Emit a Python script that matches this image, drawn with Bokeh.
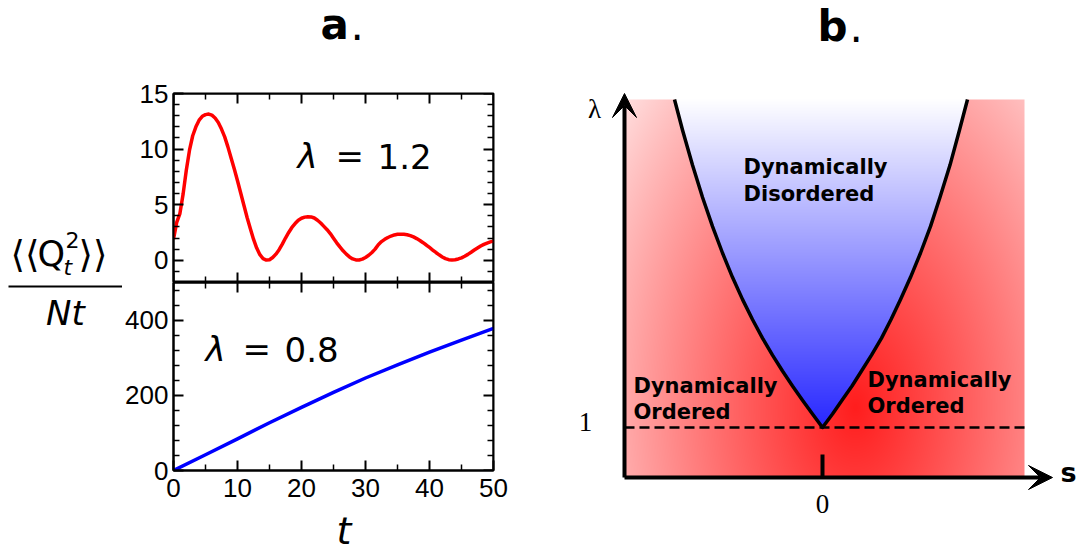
import numpy as np
from bokeh.plotting import figure
from bokeh.layouts import row, column
from bokeh.models import (Range1d, LinearAxis, FixedTicker, Label, Arrow, VeeHead,
                          CustomJSTickFormatter)
from bokeh.embed import file_html
from bokeh.resources import INLINE

# ---------------- data: panel a ----------------
t_red = [i * 0.5 for i in range(0, 101)]
q2_red = [1.9, 3.4, 4.2, 5.95, 8.1, 9.9, 11.2, 12.0, 12.6, 12.95,
          13.1, 13.15, 13.05, 12.8, 12.4, 11.8, 11.1, 10.2, 9.2, 8.2,
          7.15, 6.05, 4.95, 3.85, 2.85, 1.9, 1.1, 0.5, 0.15, 0.02,
          0.05, 0.25, 0.55, 0.95, 1.45, 2.0, 2.5, 2.95, 3.3, 3.6,
          3.78, 3.88, 3.92, 3.9, 3.8, 3.6, 3.35, 3.05, 2.75, 2.4,
          1.98, 1.57, 1.2, 0.85, 0.55, 0.3, 0.12, 0.03, 0.02, 0.1,
          0.25, 0.45, 0.7, 1.0, 1.4, 1.68, 1.88, 2.05, 2.18, 2.28,
          2.34, 2.35, 2.34, 2.3, 2.22, 2.1, 1.95, 1.78, 1.58, 1.37,
          1.15, 0.92, 0.7, 0.49, 0.3, 0.15, 0.05, 0.02, 0.05, 0.12,
          0.22, 0.36, 0.53, 0.72, 0.92, 1.1, 1.28, 1.43, 1.55, 1.65, 1.72]
t_blue = [0, 5, 10, 15, 20, 25, 30, 35, 40, 45, 50]
q2_blue = [0, 42, 84, 127, 168, 208, 246, 281, 315, 347, 378]

x_ticks = [0, 10, 20, 30, 40, 50]
x_minor = [5, 15, 25, 35, 45]
top_ticks = [0, 5, 10, 15]
top_minor = [-1, 1, 2, 3, 4, 6, 7, 8, 9, 11, 12, 13, 14]
bot_ticks = [0, 200, 400]
bot_minor = [40, 80, 120, 160, 240, 280, 320, 360, 440, 480]
lambda_top_value = "1.2"
lambda_bot_value = "0.8"

# ---------------- data: panel b ----------------
lam_boundary = [1.0, 1.135, 1.273, 1.415, 1.565, 1.724, 1.894, 2.08, 2.281,
                2.502, 2.745, 3.011, 3.303, 3.624, 3.975, 4.28]
s_left_boundary = [0.0, -0.10, -0.20, -0.30, -0.40, -0.50, -0.60, -0.70, -0.80,
                   -0.90, -1.00, -1.10, -1.20, -1.30, -1.40, -1.48]
s_right_boundary = [0.0, 0.10, 0.195, 0.295, 0.39, 0.49, 0.59, 0.685, 0.78,
                    0.88, 0.98, 1.08, 1.175, 1.275, 1.37, 1.45]
lambda_c = 1.0
S_MIN, S_MAX = -1.98, 2.02
L_MIN, L_MAX = 0.5, 4.28

BLACK = "black"
TOP_H = 56  # height of the title strip


def bl(py, size):
    """page-pixel anchor giving an alphabetic baseline at page row py"""
    return py - 0.42 * size


def lab(size, **kw):
    kw.setdefault("text_baseline", "alphabetic")
    kw.setdefault("text_color", BLACK)
    kw.setdefault("text_font", "DejaVu Sans")
    return Label(text_font_size=f"{size}px", **kw)


def bare_fig(w, h, xr, yr):
    p = figure(width=w, height=h, x_range=Range1d(*xr), y_range=Range1d(*yr),
               output_backend="svg", toolbar_location=None, x_axis_type=None, y_axis_type=None,
               min_border_left=0, min_border_right=0, min_border_top=0, min_border_bottom=0)
    p.outline_line_color = None
    p.grid.visible = False
    return p


def style_axis(ax, labels=True):
    ax.axis_line_color = BLACK
    ax.axis_line_width = 2
    ax.major_tick_line_color = BLACK
    ax.major_tick_line_width = 2
    ax.minor_tick_line_color = BLACK
    ax.minor_tick_line_width = 1.5
    ax.major_tick_in = 10
    ax.major_tick_out = 0
    ax.minor_tick_in = 6
    ax.minor_tick_out = 0
    ax.major_label_text_font = "Liberation Sans"
    ax.major_label_text_font_size = "26px"
    ax.major_label_text_color = BLACK
    if not labels:
        ax.formatter = CustomJSTickFormatter(code="return ''")


def make_panel(height, y0, y1, btop, bbot, yt, ym, xlabels):
    p = figure(width=398, height=height, x_range=Range1d(0, 50), y_range=Range1d(y0, y1),
               output_backend="svg", toolbar_location=None,
               x_axis_type=None, y_axis_type=None,
               min_border_left=51, min_border_right=27,
               min_border_top=btop, min_border_bottom=bbot)
    p.outline_line_color = BLACK
    p.outline_line_width = 2
    xt = FixedTicker(ticks=x_ticks, minor_ticks=x_minor)
    ytk = FixedTicker(ticks=yt, minor_ticks=ym)
    left = LinearAxis(ticker=ytk)
    style_axis(left)
    left.major_label_standoff = 5
    p.add_layout(left, "left")
    right = LinearAxis(ticker=ytk, fixed_location=50)
    style_axis(right, labels=False)
    p.add_layout(right, "right")
    top = LinearAxis(ticker=xt, fixed_location=y1)
    style_axis(top, labels=False)
    p.add_layout(top, "above")
    if xlabels:
        bottom = LinearAxis(ticker=xt)
        style_axis(bottom)
        bottom.major_label_standoff = 8
    else:
        bottom = LinearAxis(ticker=xt, fixed_location=y0)
        style_axis(bottom, labels=False)
    p.add_layout(bottom, "below")
    return p


def XT(px):
    return (px - 173) / 6.4


def YT(py):
    return -2 + (282 - py) * 17 / 189


def YB(py):
    return (470 - py) * 500 / 188


LS = 34  # lambda label size

# ---- titles strip (page pixel coordinates) ----
titles = bare_fig(1090, TOP_H, (0, 1090), (TOP_H, 0))
titles.add_layout(lab(42, x=320, y=bl(42, 42), text="a", text_font_style="bold"))
titles.add_layout(lab(42, x=350, y=bl(42, 42), text="."))
titles.add_layout(lab(42, x=817, y=bl(44, 42), text="b", text_font_style="bold"))
titles.add_layout(lab(42, x=849, y=bl(44, 42), text="."))

# ---- top panel (lambda = 1.2) ----
top = make_panel(282 - TOP_H, -2, 15, 93 - TOP_H, 0, top_ticks, top_minor, False)
top.line(t_red, q2_red, line_color="#ff0000", line_width=3.5, line_join="round")
top.add_layout(lab(LS, x=XT(297), y=YT(bl(170, LS)), text="λ", text_font_style="italic"))
top.add_layout(lab(LS, x=XT(335), y=YT(bl(170, LS)), text="="))
top.add_layout(lab(LS, x=XT(377), y=YT(bl(170, LS)), text=lambda_top_value))

# ---- bottom panel (lambda = 0.8) ----
bot = make_panel(228, 0, 500, 0, 40, bot_ticks, bot_minor, True)
bot.line(t_blue, q2_blue, line_color="#0000ff", line_width=3.5, line_join="round")
bot.add_layout(lab(LS, x=XT(205), y=YB(bl(363, LS)), text="λ", text_font_style="italic"))
bot.add_layout(lab(LS, x=XT(242), y=YB(bl(363, LS)), text="="))
bot.add_layout(lab(LS, x=XT(284), y=YB(bl(363, LS)), text=lambda_bot_value))

# ---- x label strip ----
tstrip = bare_fig(398, 46, (122, 520), (556, 510))
tstrip.add_layout(lab(38, x=334, y=bl(546, 38), text="t", text_font_style="italic",
                      text_align="center"))

# ---- y label figure (page pixel coordinates) ----
ylab = bare_fig(122, 556 - TOP_H, (0, 122), (556, TOP_H))
ylab.line([8, 122], [286, 286], line_color=BLACK, line_width=2)
ylab.add_layout(lab(37, x=10, y=bl(270, 37), text="⟨⟨"))
ylab.add_layout(lab(35, x=37, y=bl(268, 35), text="Q"))
ylab.add_layout(lab(22, x=65, y=bl(249, 22), text="2"))
ylab.add_layout(lab(22, x=63, y=bl(276, 22), text="t", text_font_style="italic"))
ylab.add_layout(lab(37, x=78, y=bl(270, 37), text="⟩⟩"))
ylab.add_layout(lab(34, x=65, y=bl(327, 34), text="Nt", text_font_style="italic",
                    text_align="center"))

# ---- panel b: phase diagram ----
rp = bare_fig(570, 556 - TOP_H, (-3.02, 2.68), (-0.29, 1 + (427 - TOP_H) / 100))

nx, ny = 400, 378
S = S_MIN + (np.arange(nx) + 0.5) / nx * (S_MAX - S_MIN)
L = L_MIN + (np.arange(ny) + 0.5) / ny * (L_MAX - L_MIN)
SS, LL = np.meshgrid(S, L)
lam_asc = np.array(lam_boundary)
sl = np.interp(LL, lam_asc, np.array(s_left_boundary))
sr = np.interp(LL, lam_asc, np.array(s_right_boundary))
inside = (LL >= lambda_c) & (SS > sl) & (SS < sr)
dx = (SS - 0.33) * 100
dy = (LL - 1.2) * 100
f = np.clip(1 - np.sqrt((dx / 340) ** 2 + (dy / 520) ** 2), 0, 1) ** 0.85
g = np.clip((L_MAX - LL) / (L_MAX - lambda_c), 0, 1)
Rch = np.where(inside, 255 - 215 * g, 255.0)
Gch = np.where(inside, 255 - 215 * g, 255 - 225 * f)
Bch = np.where(inside, 255.0, 255 - 225 * f)
img = np.empty((ny, nx), dtype=np.uint32)
view = img.view(dtype=np.uint8).reshape((ny, nx, 4))
view[:, :, 0] = Rch.astype(np.uint8)
view[:, :, 1] = Gch.astype(np.uint8)
view[:, :, 2] = Bch.astype(np.uint8)
view[:, :, 3] = 255
rp.image_rgba(image=[img], x=S_MIN, y=L_MIN, dw=S_MAX - S_MIN, dh=L_MAX - L_MIN)

boundary_s = s_left_boundary[::-1] + s_right_boundary[1:]
boundary_l = lam_boundary[::-1] + lam_boundary[1:]
rp.line(boundary_s, boundary_l, line_color=BLACK, line_width=3.5, line_join="round")
rp.line([S_MIN, S_MAX], [lambda_c, lambda_c], line_color=BLACK, line_width=2.5, line_dash="10 5")
rp.segment(x0=[0], y0=[0.73], x1=[0], y1=[L_MIN], line_color=BLACK, line_width=4)

rp.add_layout(Arrow(end=VeeHead(size=24, fill_color=BLACK, line_color=BLACK, line_width=1),
                    x_start=S_MIN, y_start=L_MIN, x_end=S_MIN, y_end=4.34,
                    line_color=BLACK, line_width=4))
rp.add_layout(Arrow(end=VeeHead(size=24, fill_color=BLACK, line_color=BLACK, line_width=1),
                    x_start=S_MIN, y_start=L_MIN, x_end=2.30, y_end=L_MIN,
                    line_color=BLACK, line_width=4))


def S_(px):
    return (px - 822) / 100


def LY(py):
    return 1 + (427 - py) / 100


BS = 21
rp.add_layout(lab(BS, x=S_(743), y=LY(bl(175, BS)), text="Dynamically", text_font_style="bold"))
rp.add_layout(lab(BS, x=S_(743), y=LY(bl(202, BS)), text="Disordered", text_font_style="bold"))
rp.add_layout(lab(BS, x=S_(633), y=LY(bl(394, BS)), text="Dynamically", text_font_style="bold"))
rp.add_layout(lab(BS, x=S_(633), y=LY(bl(420, BS)), text="Ordered", text_font_style="bold"))
rp.add_layout(lab(BS, x=S_(867), y=LY(bl(388, BS)), text="Dynamically", text_font_style="bold"))
rp.add_layout(lab(BS, x=S_(867), y=LY(bl(414, BS)), text="Ordered", text_font_style="bold"))
SF = 27
rp.add_layout(lab(SF, x=S_(594), y=LY(bl(120, SF)), text="λ", text_font="Liberation Serif",
                  text_align="center"))
rp.add_layout(lab(SF, x=S_(585), y=LY(bl(433, SF)), text="1", text_font="Liberation Serif",
                  text_align="center"))
rp.add_layout(lab(SF, x=S_(822), y=LY(bl(515, SF)), text="0", text_font="Liberation Serif",
                  text_align="center"))
rp.add_layout(lab(27, x=S_(1060), y=LY(bl(483, 27)), text="s", text_font_style="bold"))

layout = column(titles, row(ylab, column(top, bot, tstrip), rp))
open("out.html", "w").write(file_html(layout, INLINE))
